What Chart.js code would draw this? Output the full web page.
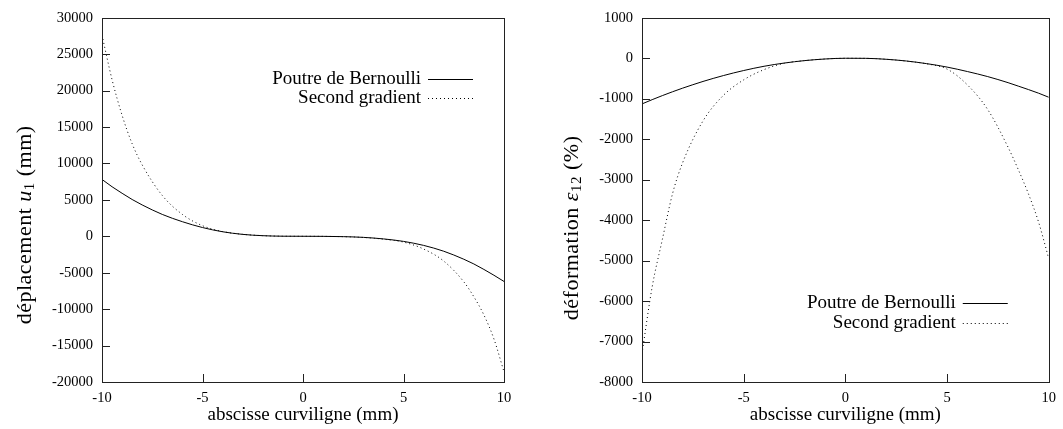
<!DOCTYPE html>
<html>
<head>
<meta charset="utf-8">
<script src="https://cdn.jsdelivr.net/npm/chart.js@4.4.1/dist/chart.umd.min.js"></script>
<style>
  html, body { margin: 0; padding: 0; background: #fff; }
  #wrap { position: relative; width: 1063px; height: 429px; }
  #left { position: absolute; left: 0; top: 0; }
  #right { position: absolute; left: 530px; top: 0; }
</style>
</head>
<body>
<div id="wrap">
  <canvas id="left" width="530" height="429"></canvas>
  <canvas id="right" width="533" height="429"></canvas>
</div>
<script>
// abscissa samples (mm)
const xs = [-10, -9.5, -9, -8.5, -8, -7, -6, -5, -4, -3, -2, -1, 0, 1, 2, 3, 4, 5, 6, 7, 8, 8.5, 9, 9.5, 10];

// left chart : displacement u1 (mm)
const bernoulliU = [7800, 6800, 5900, 5050, 4300, 3000, 2000, 1200, 620, 260, 80, 10, 0, -10, -50, -150, -360, -700, -1250, -2050, -3150, -3800, -4550, -5350, -6200];
const gradientU = [27600, 21500, 16600, 12700, 9800, 5600, 3000, 1450, 650, 270, 85, 10, 0, -10, -55, -160, -400, -800, -1750, -3400, -6250, -8300, -10800, -14100, -18600];

// right chart : strain eps12 (%)
const bernoulliE = [-1130, -1025, -925, -830, -740, -575, -430, -305, -200, -120, -60, -20, -2, -4, -27, -70, -135, -220, -330, -455, -605, -690, -775, -865, -965];
const gradientE = [-7300, -5650, -4480, -3350, -2580, -1550, -920, -535, -283, -125, -60, -20, -2, -4, -27, -72, -140, -270, -660, -1270, -2200, -2750, -3350, -4050, -4950];

const seriesNames = ['Poutre de Bernoulli', 'Second gradient'];
const xTicks = [-10, -5, 0, 5, 10];

const serif = "'Liberation Serif', 'Times New Roman', serif";

function pts(ys) {
    return xs.map((x, i) => ({ x: x, y: ys[i] }));
}

// gnuplot-like frame: box around plot area, inward ticks on left and bottom
const framePlugin = {
    id: 'frame',
    afterDatasetsDraw(chart) {
        const ctx = chart.ctx;
        const a = chart.chartArea;
        ctx.save();
        ctx.strokeStyle = '#222';
        ctx.lineWidth = 1;
        ctx.strokeRect(Math.round(a.left) + 0.5, Math.round(a.top) + 0.5,
            Math.round(a.right - a.left), Math.round(a.bottom - a.top));
        ctx.beginPath();
        chart.scales.y.ticks.forEach(t => {
            const y = Math.round(chart.scales.y.getPixelForValue(t.value)) + 0.5;
            ctx.moveTo(a.left, y);
            ctx.lineTo(a.left + 8, y);
        });
        chart.scales.x.ticks.forEach(t => {
            const x = Math.round(chart.scales.x.getPixelForValue(t.value)) + 0.5;
            ctx.moveTo(x, a.bottom);
            ctx.lineTo(x, a.bottom - 8);
        });
        ctx.stroke();
        ctx.restore();
    }
};

// legend with text on the left and line sample on the right
const keyPlugin = {
    id: 'key',
    afterDraw(chart, args, opts) {
        const ctx = chart.ctx;
        const a = chart.chartArea;
        const lineEnd = a.right - opts.right;
        const lineStart = lineEnd - 45;
        ctx.save();
        ctx.font = '19px ' + serif;
        ctx.textAlign = 'right';
        ctx.textBaseline = 'middle';
        chart.data.datasets.forEach((ds, i) => {
            const y = Math.round(a.top + opts.top + i * opts.gap) + 0.5;
            ctx.fillStyle = '#000';
            ctx.fillText(ds.label, lineStart - 7, y);
            ctx.strokeStyle = ds.borderColor;
            ctx.lineWidth = ds.borderWidth;
            ctx.setLineDash(ds.borderDash || []);
            ctx.beginPath();
            ctx.moveTo(lineStart, y);
            ctx.lineTo(lineEnd, y);
            ctx.stroke();
        });
        ctx.restore();
    }
};

// rotated y axis label with italic symbol and subscript
const yLabelPlugin = {
    id: 'ylabel',
    afterDraw(chart, args, opts) {
        const ctx = chart.ctx;
        const a = chart.chartArea;
        ctx.save();
        ctx.letterSpacing = opts.spacing + 'px';
        ctx.textBaseline = 'middle';
        ctx.textAlign = 'left';
        ctx.fillStyle = '#000';
        const fontOf = p => (p.italic ? 'italic ' : '') + (p.sub ? 15 : 22) + 'px ' + serif;
        let total = 0;
        opts.parts.forEach(p => { ctx.font = fontOf(p); total += ctx.measureText(p.text).width; });
        ctx.translate(opts.x, (a.top + a.bottom) / 2 + opts.shift);
        ctx.rotate(-Math.PI / 2);
        let x = -total / 2;
        opts.parts.forEach(p => {
            ctx.font = fontOf(p);
            ctx.fillText(p.text, x, p.sub ? 5 : 0);
            x += ctx.measureText(p.text).width;
        });
        ctx.restore();
    }
};

function makeChart(id, solid, dotted, yMin, yMax, yStep, yLabel, yWidth, padRight, key) {
    const ctx = document.getElementById(id).getContext('2d');
    return new Chart(ctx, {
        type: 'line',
        data: {
            datasets: [{
                label: seriesNames[0],
                data: pts(solid),
                borderColor: '#000',
                borderWidth: 1,
                pointRadius: 0,
                cubicInterpolationMode: 'monotone'
            }, {
                label: seriesNames[1],
                data: pts(dotted),
                borderColor: '#000',
                borderWidth: 1,
                borderDash: [1, 3],
                pointRadius: 0,
                cubicInterpolationMode: 'monotone'
            }]
        },
        options: {
            responsive: false,
            animation: false,
            layout: { padding: { top: 17, right: padRight, left: 0, bottom: 0 } },
            plugins: {
                legend: { display: false },
                tooltip: { enabled: false },
                key: key,
                ylabel: yLabel
            },
            scales: {
                x: {
                    type: 'linear',
                    min: -10,
                    max: 10,
                    afterBuildTicks: s => { s.ticks = xTicks.map(v => ({ value: v })); },
                    afterFit: s => { s.height = 47; },
                    grid: { display: false, drawTicks: false },
                    border: { display: false },
                    ticks: {
                        color: '#000',
                        padding: 7,
                        font: { family: serif, size: 14.5 },
                        callback: v => String(v)
                    },
                    title: {
                        display: true,
                        text: 'abscisse curviligne (mm)',
                        color: '#000',
                        font: { family: serif, size: 19 },
                        padding: { top: 0, bottom: 3 }
                    }
                },
                y: {
                    min: yMin,
                    max: yMax,
                    afterFit: s => { s.width = yWidth; },
                    grid: { display: false, drawTicks: false },
                    border: { display: false },
                    ticks: {
                        color: '#000',
                        stepSize: yStep,
                        padding: 9,
                        font: { family: serif, size: 14.5 },
                        callback: v => String(v)
                    }
                }
            }
        },
        plugins: [framePlugin, keyPlugin, yLabelPlugin]
    });
}

makeChart('left', bernoulliU, gradientU, -20000, 30000, 5000, {
    x: 25, shift: 25, spacing: 0.5,
    parts: [{ text: 'déplacement ' }, { text: 'u', italic: true }, { text: '1', sub: true }, { text: ' (mm)' }]
}, 102, 26, { right: 31, top: 61, gap: 19 });

makeChart('right', bernoulliE, gradientE, -8000, 1000, 1000, {
    x: 42, shift: 28, spacing: 0.5,
    parts: [{ text: 'déformation ' }, { text: '\u03b5', italic: true }, { text: '12', sub: true }, { text: ' (%)' }]
}, 112, 10, { right: 41, top: 285, gap: 20 });
</script>
</body>
</html>
